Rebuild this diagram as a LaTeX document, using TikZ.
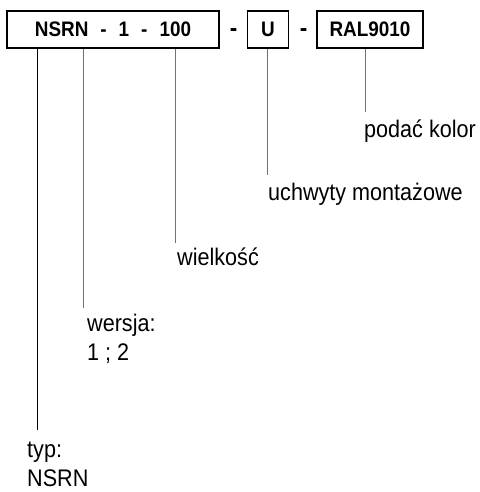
\documentclass[tikz,border=0pt]{standalone}
\usepackage{fontspec}
\setmainfont[FakeStretch=0.9]{Liberation Sans}
\begin{document}
\begin{tikzpicture}[x=1pt,y=-1pt,
    codebox/.style={draw, line width=1.6pt, minimum height=37pt, inner sep=0pt,
      font=\fontsize{21}{24}\selectfont\bfseries},
    dashsign/.style={anchor=base, inner sep=0pt, font=\fontsize{25}{28}\selectfont\bfseries},
    lead/.style={line width=1pt, draw=black!55},
    note/.style={anchor=base west, inner sep=0pt, align=left,
      font=\fontsize{24}{29}\selectfont}]
    \useasboundingbox (0,0) rectangle (479,492);

    % Code boxes
    \node[codebox, minimum width=212pt] (code) at (113,29.5)
      {NSRN\hspace*{12pt}-\hspace*{12pt}1\hspace*{12pt}-\hspace*{12pt}100};
    \node[codebox, minimum width=41pt] (mount) at (268,29.5) {U};
    \node[codebox, minimum width=106pt] (colour) at (370,29.5) {RAL9010};

    % Dashes between boxes
    \node[dashsign] (dashA) at (233.5,37) {-};
    \node[dashsign] (dashB) at (303.5,37) {-};

    % Line ends
    \coordinate (typEnd) at (37,430);
    \coordinate (verEnd) at (83,308);
    \coordinate (sizeEnd) at (175,243);
    \coordinate (mountEnd) at (267,175);
    \coordinate (colourEnd) at (365,112);

    % Leader lines
    \draw[lead, draw=black] (code.south -| typEnd) -- (typEnd);
    \draw[lead] (code.south -| verEnd) -- (verEnd);
    \draw[lead] (code.south -| sizeEnd) -- (sizeEnd);
    \draw[lead] (mount.south -| mountEnd) -- (mountEnd);
    \draw[lead] (colour.south -| colourEnd) -- (colourEnd);

    % Descriptions
    \node[note] (typ) at (27,486) {typ:\\NSRN};
    \node[note] (ver) at (87,360) {wersja:\\1 ; 2};
    \node[note] (size) at (177,265) {wielkość};
    \node[note] (mnt) at (268,200) {uchwyty montażowe};
    \node[note] (col) at (364,137) {podać kolor};
\end{tikzpicture}
\end{document}
